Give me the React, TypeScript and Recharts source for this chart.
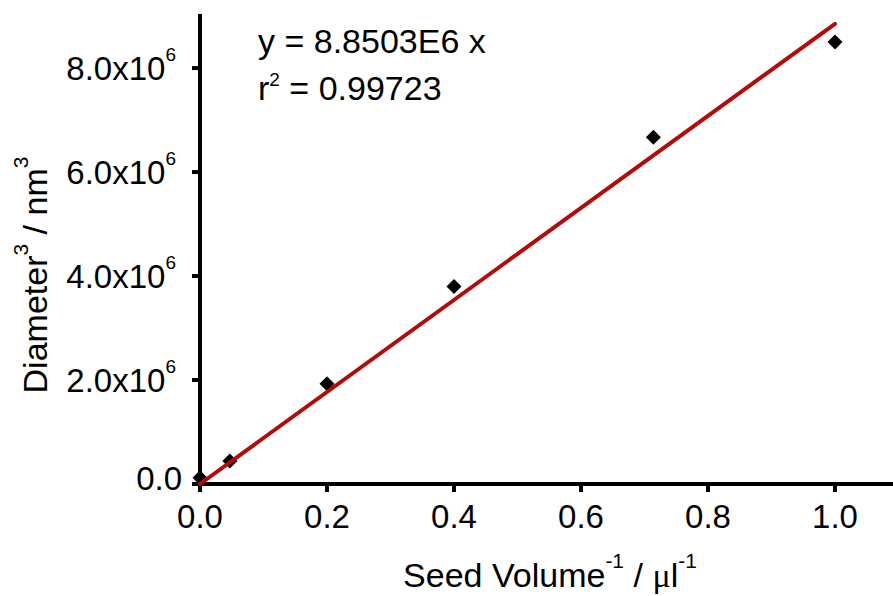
import React from 'react';
import { ScatterChart, Scatter, XAxis, YAxis } from 'recharts';

// measured points
const seedVolumeInv = [0, 0.047, 0.2, 0.4, 0.714, 1.0];
const diameterCubed = [0.12e6, 0.44e6, 1.93e6, 3.8e6, 6.67e6, 8.5e6];

// linear fit y = 8.8503E6 x
const fitX = [0, 1.0];
const fitY = [0, 8.8503e6];

const xTicks = [0, 0.2, 0.4, 0.6, 0.8, 1.0];
const yTicks = [0, 2e6, 4e6, 6e6, 8e6];

const points = seedVolumeInv.map((x, i) => ({ x, y: diameterCubed[i] }));
const fitLine = fitX.map((x, i) => ({ x, y: fitY[i] }));

const FONT = '"Liberation Sans", Arial, sans-serif';

const Diamond = (props: any) => {
  const { cx, cy } = props;
  const r = 7.5;
  return (
    <path
      d={`M${cx},${cy - r} L${cx + r},${cy} L${cx},${cy + r} L${cx - r},${cy} Z`}
      fill="#000"
    />
  );
};

const YTick = (props: any) => {
  const { x, y, payload } = props;
  const v = payload.value;
  if (v === 0) {
    return (
      <text x={x} y={y + 6} textAnchor="end" fontSize={33} fontFamily={FONT} fill="#000">
        0.0
      </text>
    );
  }
  const mant = (v / 1e6).toFixed(1);
  return (
    <text x={x - 6} y={y + 12} textAnchor="end" fontSize={33} fontFamily={FONT} fill="#000">
      {mant}x10
      <tspan fontSize={19} dy={-19}>6</tspan>
    </text>
  );
};

const App: React.FC = () => {
  return (
    <div style={{ position: 'absolute', left: 0, top: 0, width: 893, height: 596, background: '#fff' }}>
      <ScatterChart width={893} height={596} margin={{ top: 14, right: 0, left: 0, bottom: 0 }}>
        <XAxis
          type="number"
          dataKey="x"
          domain={[0, 1.0913]}
          ticks={xTicks}
          tickFormatter={(v: number) => v.toFixed(1)}
          height={112}
          tickSize={8}
          tickMargin={13}
          tick={{ fill: '#000', fontSize: 33, fontFamily: FONT }}
          tickLine={{ stroke: '#000', strokeWidth: 4 }}
          axisLine={{ stroke: '#000', strokeWidth: 4 }}
        />
        <YAxis
          type="number"
          dataKey="y"
          domain={[0, 9.04e6]}
          ticks={yTicks}
          width={200}
          tickSize={8}
          tickMargin={10}
          tick={<YTick />}
          tickLine={{ stroke: '#000', strokeWidth: 4 }}
          axisLine={{ stroke: '#000', strokeWidth: 4 }}
        />
        <Scatter data={points} shape={<Diamond />} isAnimationActive={false} />
        <Scatter
          data={fitLine}
          line={{ stroke: '#B30A0A', strokeWidth: 4, strokeLinecap: 'round' }}
          shape={() => <g />}
          isAnimationActive={false}
        />
      </ScatterChart>
      <svg
        width={893}
        height={596}
        style={{ position: 'absolute', left: 0, top: 0, pointerEvents: 'none' }}
      >
        <text x={258} y={53} fontSize={34} fontFamily={FONT} fill="#000">
          y = 8.8503E6 x
        </text>
        <text x={258} y={100} fontSize={34} fontFamily={FONT} fill="#000">
          r<tspan fontSize={19} dy={-14}>2</tspan>
          <tspan dy={14}> = 0.99723</tspan>
        </text>
        <text x={550} y={587} textAnchor="middle" fontSize={34} fontFamily={FONT} fill="#000">
          Seed Volume
          <tspan fontSize={21} dy={-19}>-1</tspan>
          <tspan dy={19}> / </tspan>
          <tspan fontFamily='"Liberation Serif", serif'>μ</tspan>
          <tspan>l</tspan>
          <tspan fontSize={21} dy={-19}>-1</tspan>
        </text>
        <g transform="translate(47,275) rotate(-90)">
          <text x={0} y={0} textAnchor="middle" fontSize={34} fontFamily={FONT} fill="#000">
            Diameter
            <tspan fontSize={21} dy={-19}>3</tspan>
            <tspan dy={19}> / nm</tspan>
            <tspan fontSize={21} dy={-19}>3</tspan>
          </text>
        </g>
      </svg>
    </div>
  );
};

export default App;
